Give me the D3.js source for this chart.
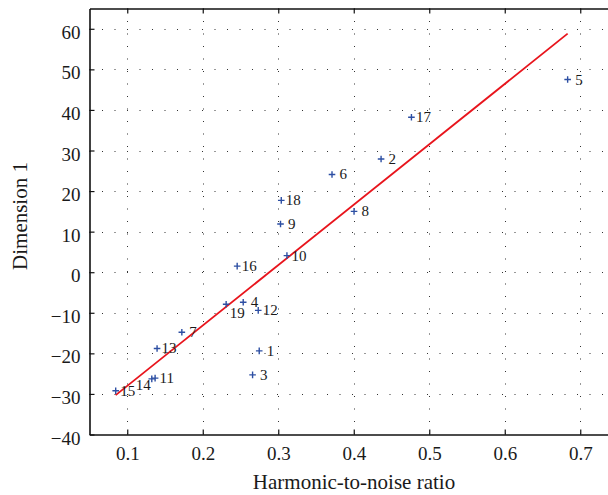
<!DOCTYPE html>
<html>
<head>
<meta charset="utf-8">
<script src="https://cdn.jsdelivr.net/npm/d3@7"></script>
<style>
	body { margin: 0; background: #fff; }
	text { font-family: "Liberation Serif", "DejaVu Serif", serif; fill: #1a1a1a; }
</style>
</head>
<body>
<script>
//Data
let ids  = [1, 2, 3, 4, 5, 6, 7, 8, 9, 10, 11, 12, 13, 14, 15, 16, 17, 18, 19];
let hnr  = [0.2748, 0.4362, 0.2660, 0.2536, 0.6833, 0.3712, 0.1723, 0.4004, 0.3030, 0.3115,
            0.1369, 0.2735, 0.1395, 0.1325, 0.0847, 0.2456, 0.4764, 0.3040, 0.2310];
let dim1 = [-19.4, 27.9, -25.3, -7.4, 47.5, 24.1, -14.8, 15.0, 11.9, 4.1,
            -26.1, -9.4, -18.8, -26.3, -29.2, 1.5, 38.2, 17.7, -7.9];

//Fitted regression line end points
let fitX = [0.0847, 0.6833];
let fitY = [-30.3, 58.8];

let xTicks = [0.1, 0.2, 0.3, 0.4, 0.5, 0.6, 0.7];
let yTicks = [-40, -30, -20, -10, 0, 10, 20, 30, 40, 50, 60];

window.onload = function(){
	let w = 608, h = 495;
	let left = 89.5, top = 8.5, right = 618, bottom = 434.5;

	let svg = d3.select("body").append("svg")
		.attr("width", w)
		.attr("height", h);

	let x = d3.scaleLinear().domain([0.05, 0.75]).range([left, right]);
	let y = d3.scaleLinear().domain([-40, 65]).range([bottom, top]);

	//Dotted grid
	let grid = svg.append("g").attr("class", "grid");
	grid.selectAll(".vgrid")
		.data(xTicks)
		.enter()
		.append("line")
		.attr("x1", d => Math.round(x(d)) + 0.5)
		.attr("x2", d => Math.round(x(d)) + 0.5)
		.attr("y1", bottom)
		.attr("y2", top)
		.style("stroke", "#333")
		.style("stroke-width", 1)
		.style("stroke-dasharray", "1,11.5");
	grid.selectAll(".hgrid")
		.data(yTicks.filter(d => d > -40))
		.enter()
		.append("line")
		.attr("x1", left)
		.attr("x2", right)
		.attr("y1", d => Math.round(y(d)) + 0.5)
		.attr("y2", d => Math.round(y(d)) + 0.5)
		.style("stroke", "#333")
		.style("stroke-width", 1)
		.style("stroke-dasharray", "1,11.5");

	//Axes with inward ticks
	let xAxis = svg.append("g")
		.attr("transform", "translate(0," + bottom + ")")
		.call(d3.axisBottom(x).tickValues(xTicks).tickSizeInner(-5).tickSizeOuter(0).tickPadding(12).tickFormat(d3.format(".1f")));
	let xAxisTop = svg.append("g")
		.attr("transform", "translate(0," + top + ")")
		.call(d3.axisTop(x).tickValues(xTicks).tickSizeInner(-5).tickSizeOuter(0).tickFormat(""));
	let yAxis = svg.append("g")
		.attr("transform", "translate(" + left + ",0)")
		.call(d3.axisLeft(y).tickValues(yTicks).tickSizeInner(-5).tickSizeOuter(0).tickPadding(9)
			.tickFormat(d => d < 0 ? "\u2212" + Math.abs(d) : d));

	[xAxis, xAxisTop, yAxis].forEach(function(g){
		g.select(".domain").style("stroke", "#111").style("stroke-width", 1.6);
		g.selectAll(".tick line").style("stroke", "#111").style("stroke-width", 1.2);
		g.selectAll(".tick text")
			.style("font-family", "'Liberation Serif', serif")
			.style("font-size", "19px")
			.style("fill", "#1a1a1a");
	});
	yAxis.selectAll(".tick text").attr("dy", "0.5em");

	//Regression line
	svg.append("line")
		.attr("x1", x(fitX[0]))
		.attr("y1", y(fitY[0]))
		.attr("x2", x(fitX[1]))
		.attr("y2", y(fitY[1]))
		.style("stroke", "#e8141c")
		.style("stroke-width", 1.8);

	//Points as blue plus markers
	let pts = ids.map((id, i) => ({id: id, x: hnr[i], y: dim1[i]}));
	svg.selectAll(".pt")
		.data(pts)
		.enter()
		.append("path")
		.attr("class", "pt")
		.attr("d", d => {
			let cx = x(d.x), cy = y(d.y), s = 3.3;
			return "M" + (cx - s) + "," + cy + "H" + (cx + s) + "M" + cx + "," + (cy - s) + "V" + (cy + s);
		})
		.style("stroke", "#2d4fa3")
		.style("stroke-width", 1.4);

	//Point labels, a few are nudged to avoid overlap
	let nudge = {14: [-1, 11, "end"], 19: [3.5, 14, "start"]};
	svg.selectAll(".lbl")
		.data(pts)
		.enter()
		.append("text")
		.attr("class", "lbl")
		.attr("x", d => x(d.x) + (nudge[d.id] ? nudge[d.id][0] : (d.id < 10 ? 7.5 : 4.5)))
		.attr("y", d => y(d.y) + (nudge[d.id] ? nudge[d.id][1] : 5))
		.attr("text-anchor", d => nudge[d.id] ? nudge[d.id][2] : "start")
		.style("font-size", "15px")
		.text(d => d.id);

	//Axis titles
	svg.append("text")
		.attr("x", 354)
		.attr("y", 489)
		.attr("text-anchor", "middle")
		.style("font-size", "21px")
		.text("Harmonic-to-noise ratio");
	svg.append("text")
		.attr("transform", "translate(27,216) rotate(-90)")
		.attr("text-anchor", "middle")
		.style("font-size", "21px")
		.text("Dimension 1");
};
</script>
</body>
</html>
